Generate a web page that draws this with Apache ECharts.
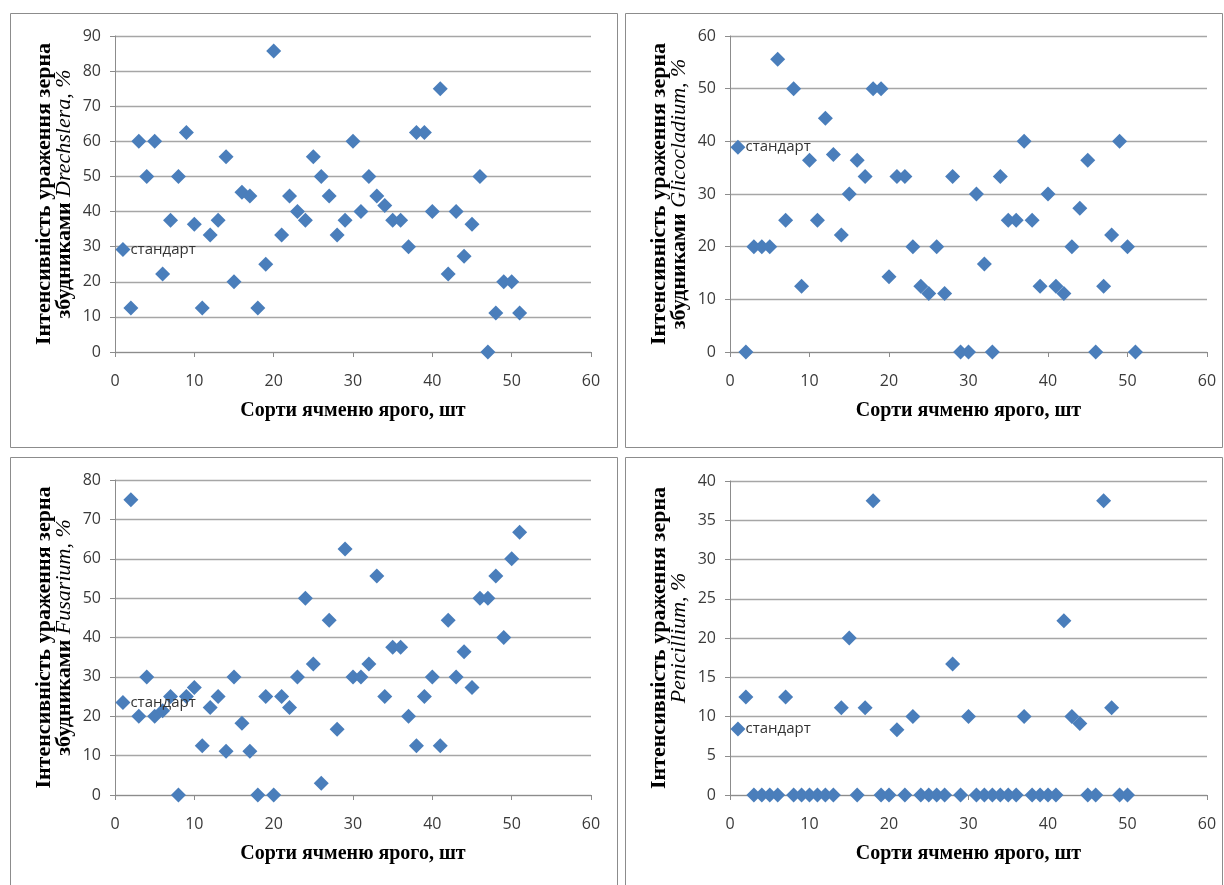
<!DOCTYPE html>
<html>
<head>
<meta charset="utf-8">
<script src="https://cdn.jsdelivr.net/npm/echarts@6/dist/echarts.min.js"></script>
<style>
html,body{margin:0;padding:0;background:#fff;}
#chart{width:1224px;height:885px;}
</style>
</head>
<body>
<div id="chart"></div>
<script>
// ---- data ----
const sortNumbers = [1,2,3,4,5,6,7,8,9,10,11,12,13,14,15,16,17,18,19,20,21,22,23,24,25,26,27,28,29,30,31,32,33,34,35,36,37,38,39,40,41,42,43,44,45,46,47,48,49,50,51];
const drechslera = [29.2,12.5,60,50,60,22.2,37.5,50,62.5,36.4,12.5,33.3,37.5,55.6,20,45.5,44.4,12.5,25,85.7,33.3,44.4,40,37.5,55.6,50,44.4,33.3,37.5,60,40,50,44.4,41.7,37.5,37.5,30,62.5,62.5,40,75,22.2,40,27.3,36.4,50,0,11.1,20,20,11.1];
const glicocladium = [38.9,0,20,20,20,55.6,25,50,12.5,36.4,25,44.4,37.5,22.2,30,36.4,33.3,50,50,14.3,33.3,33.3,20,12.5,11.1,20,11.1,33.3,0,0,30,16.7,0,33.3,25,25,40,25,12.5,30,12.5,11.1,20,27.3,36.4,0,12.5,22.2,40,20,0];
const fusarium = [23.5,75,20,30,20,21.4,25,0,25,27.3,12.5,22.2,25,11.1,30,18.2,11.1,0,25,0,25,22.2,30,50,33.3,3,44.4,16.7,62.5,30,30,33.3,55.6,25,37.5,37.5,20,12.5,25,30,12.5,44.4,30,36.4,27.3,50,50,55.6,40,60,66.7];
const penicillium = [8.4,12.5,0,0,0,0,12.5,0,0,0,0,0,0,11.1,20,0,11.1,37.5,0,0,8.3,0,10,0,0,0,0,16.7,0,10,0,0,0,0,0,0,10,0,0,0,0,22.2,10,9.1,0,0,37.5,11.1,0,0];

const pathogens = ['Drechslera','Glicocladium','Fusarium','Penicillium'];
const titlePrefixes = ['збудниками ','збудниками ','збудниками ',''];
const yMaxes = [90,60,80,40];
const ySteps = [10,10,10,5];
const xMin = 0, xMax = 60, xStep = 10;
const xTitle = 'Сорти ячменю ярого, шт';
const yTitleFirstLine = 'Інтенсивність ураження зерна';
const standardLabel = 'стандарт';

// ---- layout ----
const grids = [
  {left:115, top:36, width:476, height:316},
  {left:730, top:36, width:477, height:316},
  {left:115, top:480, width:476, height:315},
  {left:730, top:481, width:477, height:314}
];
const allValues = [drechslera, glicocladium, fusarium, penicillium];
const blue = '#4A7EBB';
const axisGray = '#8c8c8c';
const textColor = '#3a3a3a';

const xAxes = [], yAxes = [], series = [];
grids.forEach((g, i) => {
  xAxes.push({
    type:'value', gridIndex:i, min:xMin, max:xMax, interval:xStep,
    name: xTitle, nameLocation:'middle', nameGap:49,
    nameTextStyle:{fontFamily:'Liberation Serif', fontWeight:'bold', fontSize:20, color:'#000'},
    axisLine:{show:true, onZero:false, lineStyle:{color:axisGray, width:1}},
    axisTick:{show:true, length:5, inside:false, lineStyle:{color:axisGray}},
    axisLabel:{fontFamily:'Open Sans', fontSize:16, color:textColor, margin:21},
    splitLine:{show:false}
  });
  yAxes.push({
    type:'value', gridIndex:i, min:0, max:yMaxes[i], interval:ySteps[i],
    name: '{b|' + yTitleFirstLine + '}\n' + (titlePrefixes[i] ? '{b|' + titlePrefixes[i] + '}' : '') + '{it|' + pathogens[i] + '}{ip|, %}',
    nameLocation:'middle', nameGap:41, nameRotate:90,
    nameTextStyle:{
      color:'#000', lineHeight:20,
      rich:{
        b:{fontFamily:'Liberation Serif', fontWeight:'bold', fontSize:22, color:'#000', lineHeight:20},
        it:{fontFamily:'Liberation Serif', fontStyle:'italic', fontSize:22, color:'#000', lineHeight:20},
        ip:{fontFamily:'Liberation Serif', fontStyle:'italic', fontSize:22, color:'#000', lineHeight:20}
      }
    },
    axisLine:{show:true, lineStyle:{color:axisGray, width:1}},
    axisTick:{show:true, length:5, inside:false, lineStyle:{color:axisGray}},
    axisLabel:{fontFamily:'Open Sans', fontSize:16, color:textColor, margin:14},
    splitLine:{show:true, lineStyle:{color:'#a6a6a6', width:1.3}}
  });
  const data = allValues[i].map((v, k) => {
    const item = {value:[sortNumbers[k], v]};
    if (k === 0) {
      item.label = {show:true, formatter:standardLabel, position:'right', distance:0,
        fontFamily:'Open Sans', fontSize:15, color:'#333'};
    }
    return item;
  });
  series.push({
    type:'scatter', xAxisIndex:i, yAxisIndex:i,
    symbol:'diamond', symbolSize:[15,15],
    itemStyle:{color:blue, opacity:1},
    data:data, animation:false, z:3
  });
});

const panelRects = [
  {x:10.5, y:13.5, width:607, height:434},
  {x:625.5, y:13.5, width:597, height:434},
  {x:10.5, y:457.5, width:607, height:440},
  {x:625.5, y:457.5, width:597, height:440}
];

const chart = echarts.init(document.getElementById('chart'), null, {renderer:'canvas'});
chart.setOption({
  backgroundColor:'#fff',
  animation:false,
  grid: grids.map(g => Object.assign({containLabel:false}, g)),
  xAxis: xAxes,
  yAxis: yAxes,
  series: series,
  graphic: panelRects.map(r => ({
    type:'rect', shape:r, silent:true, z:-1,
    style:{fill:'none', stroke:'#8c8c8c', lineWidth:1}
  }))
});
</script>
</body>
</html>
